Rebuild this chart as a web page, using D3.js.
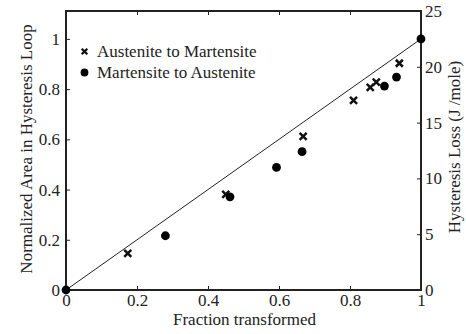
<!DOCTYPE html>
<html>
<head>
<meta charset="utf-8">
<script src="https://cdn.jsdelivr.net/npm/d3@7"></script>
<style>
  body { margin: 0; background: #fff; }
  svg { display: block; }
</style>
</head>
<body>
<svg id="chart" width="466" height="334"></svg>
<script>
// Fraction transformed vs. normalized hysteresis-loop area
const austToMartX = [0.174, 0.450, 0.668, 0.810, 0.857, 0.874, 0.939];
const austToMartY = [0.146, 0.381, 0.612, 0.755, 0.807, 0.828, 0.903];
const martToAustX = [0.0, 0.280, 0.462, 0.593, 0.665, 0.897, 0.931, 1.0];
const martToAustY = [0.0, 0.216, 0.371, 0.488, 0.551, 0.812, 0.848, 1.0];
const referenceLineX = [0, 1];
const referenceLineY = [0, 1];
const xTicks = [0, 0.2, 0.4, 0.6, 0.8, 1];
const yLeftTicks = [0, 0.2, 0.4, 0.6, 0.8, 1];
const yRightTicks = [0, 5, 10, 15, 20, 25];
const legendLabels = ["Austenite to Martensite", "Martensite to Austenite"];

const FONT = "'Liberation Serif'";
const INK = "#222";
const SIZE = "17px";

const svg = d3.select("#chart");
const L = 66, R = 421, T = 11, B = 290;

const x = d3.scaleLinear().domain([0, 1]).range([L, R]);
const yR = d3.scaleLinear().domain([0, 25]).range([B, T]);
const yL = d3.scaleLinear().domain([0, 25 / 22.5]).range([B, T]);

const fmt = d => String(d);

// axes with inward ticks
const tickLen = 4;
function styleAxis(g) {
  g.attr("font-family", null).attr("font-size", null);
  g.select(".domain").remove();
  g.selectAll(".tick line").attr("stroke", INK).attr("stroke-width", 1);
  g.selectAll(".tick text")
    .style("font-family", FONT).style("font-size", SIZE).attr("fill", INK);
}

svg.append("g").attr("transform", `translate(0,${B})`)
  .call(d3.axisBottom(x).tickValues(xTicks).tickFormat(fmt).tickSizeInner(-tickLen).tickSizeOuter(0).tickPadding(4))
  .call(styleAxis);
svg.append("g").attr("transform", `translate(0,${T})`)
  .call(d3.axisTop(x).tickValues(xTicks.slice(1, -1)).tickFormat("").tickSizeInner(-tickLen).tickSizeOuter(0))
  .call(styleAxis);
svg.append("g").attr("transform", `translate(${L},0)`)
  .call(d3.axisLeft(yL).tickValues(yLeftTicks).tickFormat(fmt).tickSizeInner(-tickLen).tickSizeOuter(0).tickPadding(6))
  .call(styleAxis);
svg.append("g").attr("transform", `translate(${R},0)`)
  .call(d3.axisRight(yR).tickValues(yRightTicks).tickFormat(fmt).tickSizeInner(-tickLen).tickSizeOuter(0).tickPadding(4))
  .call(styleAxis);

// frame
svg.append("rect").attr("x", L).attr("y", T).attr("width", R - L).attr("height", B - T)
  .attr("fill", "none").attr("stroke", INK).attr("stroke-width", 2);

// reference diagonal
svg.append("path")
  .datum(referenceLineX.map((v, i) => [v, referenceLineY[i]]))
  .attr("d", d3.line().x(d => x(d[0])).y(d => yL(d[1])))
  .attr("fill", "none").attr("stroke", INK).attr("stroke-width", 1);

// markers
const crossPath = s => `M${-s},${-s}L${s},${s}M${-s},${s}L${s},${-s}`;
svg.append("g").selectAll("path")
  .data(austToMartX.map((v, i) => [v, austToMartY[i]]))
  .join("path")
  .attr("transform", d => `translate(${x(d[0])},${yL(d[1])})`)
  .attr("d", crossPath(3.5))
  .attr("stroke", "#111").attr("stroke-width", 2.5).attr("fill", "none");

svg.append("g").selectAll("circle")
  .data(martToAustX.map((v, i) => [v, martToAustY[i]]))
  .join("circle")
  .attr("cx", d => x(d[0])).attr("cy", d => yL(d[1]))
  .attr("r", 4.4).attr("fill", "#000");

// legend
const lg = svg.append("g");
lg.append("path").attr("transform", "translate(84.5,51.5)").attr("d", crossPath(2.8))
  .attr("stroke", "#111").attr("stroke-width", 2.3);
lg.append("circle").attr("cx", 84.5).attr("cy", 72.5).attr("r", 3.9).attr("fill", "#000");
lg.selectAll("text").data(legendLabels).join("text")
  .attr("x", 97).attr("y", (d, i) => 51.5 + i * 21)
  .attr("dy", "0.35em").style("font-family", FONT).style("font-size", SIZE)
  .attr("fill", INK).text(d => d);

// axis titles
function title(sel) {
  return sel.attr("text-anchor", "middle")
    .style("font-family", FONT).style("font-size", SIZE).attr("fill", INK);
}
title(svg.append("text").attr("x", 244.5).attr("y", 324.5))
  .text("Fraction transformed");
title(svg.append("text").attr("transform", `translate(31.5,149) rotate(-90)`))
  .text("Normalized Area in Hysteresis Loop");
title(svg.append("text").attr("transform", `translate(459.5,147) rotate(-90)`))
  .text("Hysteresis Loss (J /mole)");
</script>
</body>
</html>
